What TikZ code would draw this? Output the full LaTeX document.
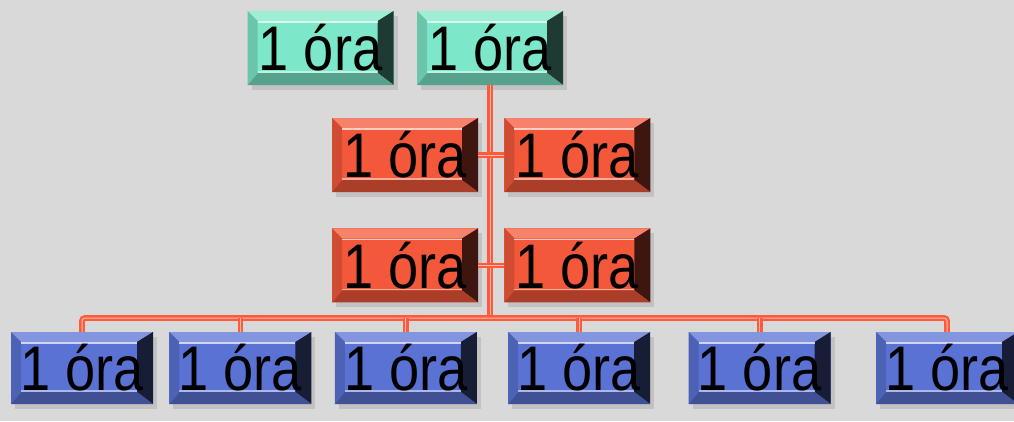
\documentclass[tikz,border=0pt]{standalone}
\usepackage{fontspec}
\setmainfont{Liberation Sans}
\newfontfamily\boxfont[FakeStretch=0.86]{Liberation Sans}
\usetikzlibrary{positioning, calc, shadows}
\definecolor{bggray}{HTML}{D9D9D9}
\definecolor{mint}{HTML}{7DE8C9}
\definecolor{tomato}{HTML}{F4583A}
\definecolor{royal}{HTML}{5B72D5}
\definecolor{linkred}{HTML}{FF5A3C}
\tikzset{
    bevelbox/.style={rectangle, fill=#1, minimum height=74pt, minimum width=146pt, inner sep=0pt,
        font=\boxfont\fontsize{63}{70}\selectfont, text=black,
        drop shadow={opacity=0.25, shadow xshift=4pt, shadow yshift=-5pt},
        path picture={
            \coordinate (nw) at (path picture bounding box.north west);
            \coordinate (ne) at (path picture bounding box.north east);
            \coordinate (sw) at (path picture bounding box.south west);
            \coordinate (se) at (path picture bounding box.south east);
            \fill[#1!75!white] (nw) -- (ne) -- ($(ne)+(-16pt,-10pt)$) -- ($(nw)+(10pt,-10pt)$) -- cycle;
            \fill[#1!25!black] (ne) -- (se) -- ($(se)+(-16pt,12pt)$) -- ($(ne)+(-16pt,-10pt)$) -- cycle;
            \fill[#1!70!black] (se) -- (sw) -- ($(sw)+(10pt,12pt)$) -- ($(se)+(-16pt,12pt)$) -- cycle;
            \fill[#1!85!black] (sw) -- (nw) -- ($(nw)+(10pt,-10pt)$) -- ($(sw)+(10pt,12pt)$) -- cycle;
            \draw[white, opacity=0.7, line width=1.4pt] ($(nw)+(10pt,-11pt)$) -- ($(ne)+(-16pt,-11pt)$);
            \draw[white, opacity=0.5, line width=1.4pt] ($(sw)+(10pt,13pt)$) -- ($(se)+(-16pt,13pt)$);
        }},
    greenbox/.style={bevelbox=mint},
    redbox/.style={bevelbox=tomato},
    bluebox/.style={bevelbox=royal, minimum width=142pt, minimum height=72pt},
    link/.style={draw=linkred, line width=2.4pt, double=linkred!40!white, double distance=1pt},
}

\begin{document}
\begin{tikzpicture}[x=1pt, y=-1pt]
    \useasboundingbox[fill=bggray] (0,0) rectangle (1014,421);

    % Top
    \node[greenbox] (g2) at (490,48) {1 óra};
    \node[greenbox, left=23pt of g2] (g1) {1 óra};

    % Middle
    \node[redbox] (r1) at (405,155) {1 óra};
    \node[redbox, right=26pt of r1] (r2) {1 óra};
    \node[redbox, below=36pt of r1] (r3) {1 óra};
    \node[redbox, right=26pt of r3] (r4) {1 óra};

    % Bottom row
    \node[bluebox] (b1) at (82,368) {1 óra};
    \node[bluebox, right=16pt of b1] (b2) {1 óra};
    \node[bluebox, right=23pt of b2] (b3) {1 óra};
    \node[bluebox, right=31pt of b3] (b4) {1 óra};
    \node[bluebox, right=38pt of b4] (b5) {1 óra};
    \node[bluebox, right=45pt of b5] (b6) {1 óra};

    % Connectors
    \coordinate (bus) at (490,318);
    \draw[link] (g2.south) -- (bus);
    \draw[link] (r1) -- (r2);
    \draw[link] (r3) -- (r4);
    \draw[link, rounded corners=3pt] (b1.north) -- (b1.north |- bus) -- (b6.north |- bus) -- (b6.north);
    \foreach \b in {b2,b3,b4,b5}
        \draw[link] (\b.north |- bus) -- (\b.north);
\end{tikzpicture}
\end{document}
